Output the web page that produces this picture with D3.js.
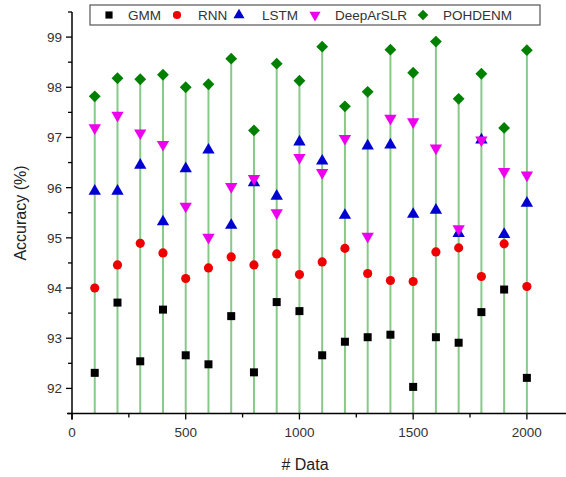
<!DOCTYPE html>
<html><head><meta charset="utf-8">
<script src="https://cdn.jsdelivr.net/npm/d3@7"></script>
<style>body{margin:0;background:#fff;} svg{display:block;} text{font-family:"Liberation Sans",Arial,sans-serif;}</style>
</head><body><svg id="c" width="566" height="477"></svg>
<script>
const dataSizes = [100,200,300,400,500,600,700,800,900,1000,1100,1200,1300,1400,1500,1600,1700,1800,1900,2000];
const gmm = [92.31,93.71,92.54,93.57,92.66,92.48,93.44,92.32,93.72,93.54,92.66,92.93,93.02,93.07,92.03,93.02,92.91,93.52,93.97,92.21];
const rnn = [94.00,94.46,94.89,94.70,94.19,94.40,94.62,94.46,94.68,94.27,94.52,94.79,94.29,94.15,94.13,94.72,94.80,94.23,94.88,94.03];
const lstm = [95.93,95.93,96.45,95.32,96.38,96.75,95.25,96.10,95.83,96.91,96.53,95.45,96.83,96.85,95.47,95.55,95.09,96.95,95.07,95.69];
const deepArSLR = [97.19,97.44,97.09,96.86,95.63,95.01,96.02,96.18,95.50,96.60,96.30,96.98,95.03,97.38,97.31,96.79,95.18,96.95,96.32,96.25];
const pohdenm = [97.82,98.18,98.16,98.25,98.00,98.06,98.57,97.14,98.47,98.13,98.81,97.62,97.91,98.75,98.29,98.91,97.77,98.27,97.19,98.74];
const seriesNames = ["GMM","RNN","LSTM","DeepArSLR","POHDENM"];
const xTicks = [0,500,1000,1500,2000];
const yTicks = [92,93,94,95,96,97,98,99];

const svg = d3.select("#c");
const x = d3.scaleLinear().domain([0,2172]).range([72,566]);
const y = d3.scaleLinear().domain([91.5,99.5]).range([413.5,12]);

const series = [
  {name:"GMM", vals:gmm, sym:d3.symbolSquare, size:64, color:"#000000", rot:0},
  {name:"RNN", vals:rnn, sym:d3.symbolCircle, size:66, color:"#ee0000", rot:0},
  {name:"LSTM", vals:lstm, sym:d3.symbolTriangle, size:66, color:"#0000d0", rot:0},
  {name:"DeepArSLR", vals:deepArSLR, sym:d3.symbolTriangle, size:66, color:"#ee00ee", rot:180},
  {name:"POHDENM", vals:pohdenm, sym:d3.symbolSquare, size:70, color:"#008000", rot:45}
];

// stems
svg.append("g").selectAll("line").data(dataSizes).join("line")
  .attr("x1",d=>x(d)).attr("x2",d=>x(d))
  .attr("y1",y(91.5)).attr("y2",(d,i)=>y(pohdenm[i]))
  .attr("stroke","#88c888").attr("stroke-width",2);

// axes
const xAxis = svg.append("g").attr("transform",`translate(0,${y(91.5)})`);
xAxis.append("line").attr("x1",x(0)-5).attr("x2",566).attr("stroke","#000").attr("stroke-width",1.5);
xAxis.selectAll(".maj").data(xTicks).join("line").attr("x1",d=>x(d)).attr("x2",d=>x(d)).attr("y1",0).attr("y2",6).attr("stroke","#000").attr("stroke-width",1.3);
xAxis.selectAll(".min").data([250,750,1250,1750]).join("line").attr("x1",d=>x(d)).attr("x2",d=>x(d)).attr("y1",0).attr("y2",4).attr("stroke","#000").attr("stroke-width",1.3);
xAxis.selectAll("text").data(xTicks).join("text").attr("x",d=>x(d)).attr("y",23)
  .attr("text-anchor","middle").attr("font-size",13.5).attr("fill","#333").text(d=>d);

const yAxis = svg.append("g").attr("transform",`translate(${x(0)},0)`);
yAxis.append("line").attr("y1",y(99.5)).attr("y2",y(91.5)+6).attr("stroke","#000").attr("stroke-width",1.5);
yAxis.selectAll(".maj").data(yTicks).join("line").attr("y1",d=>y(d)).attr("y2",d=>y(d)).attr("x1",0).attr("x2",-6).attr("stroke","#000").attr("stroke-width",1.3);
yAxis.selectAll(".min").data([91.5,92.5,93.5,94.5,95.5,96.5,97.5,98.5,99.5]).join("line").attr("y1",d=>y(d)).attr("y2",d=>y(d)).attr("x1",0).attr("x2",-4).attr("stroke","#000").attr("stroke-width",1.3);
yAxis.selectAll("text").data(yTicks).join("text").attr("x",-10).attr("y",d=>y(d)+5)
  .attr("text-anchor","end").attr("font-size",13.5).attr("fill","#333").text(d=>d);

// markers
series.forEach(s=>{
  const sym = d3.symbol().type(s.sym).size(s.size);
  svg.append("g").selectAll("path").data(dataSizes).join("path")
    .attr("d",sym)
    .attr("transform",(d,i)=>`translate(${x(d)},${y(s.vals[i])}) rotate(${s.rot})`)
    .attr("fill",s.color);
});

// axis titles
svg.append("text").attr("x",305).attr("y",470).attr("text-anchor","middle").attr("font-size",16).attr("fill","#222").text("# Data");
svg.append("text").attr("transform","translate(26,213) rotate(-90)").attr("text-anchor","middle").attr("font-size",16).attr("fill","#222").text("Accuracy (%)");

// legend
const lg = svg.append("g");
lg.append("rect").attr("x",90).attr("y",5).attr("width",450).attr("height",20).attr("fill","#fff").attr("stroke","#555").attr("stroke-width",1.2);
const lgSym = [109,177,239,315,423];
const lgTxt = [128,198,262,335,443];
series.forEach((s,i)=>{
  lg.append("path").attr("d",d3.symbol().type(s.sym).size(s.size*0.8))
    .attr("transform",`translate(${lgSym[i]},15) rotate(${s.rot})`).attr("fill",s.color);
  lg.append("text").attr("x",lgTxt[i]).attr("y",20).attr("font-size",13.5).attr("fill","#333").text(s.name);
});
</script></body></html>
